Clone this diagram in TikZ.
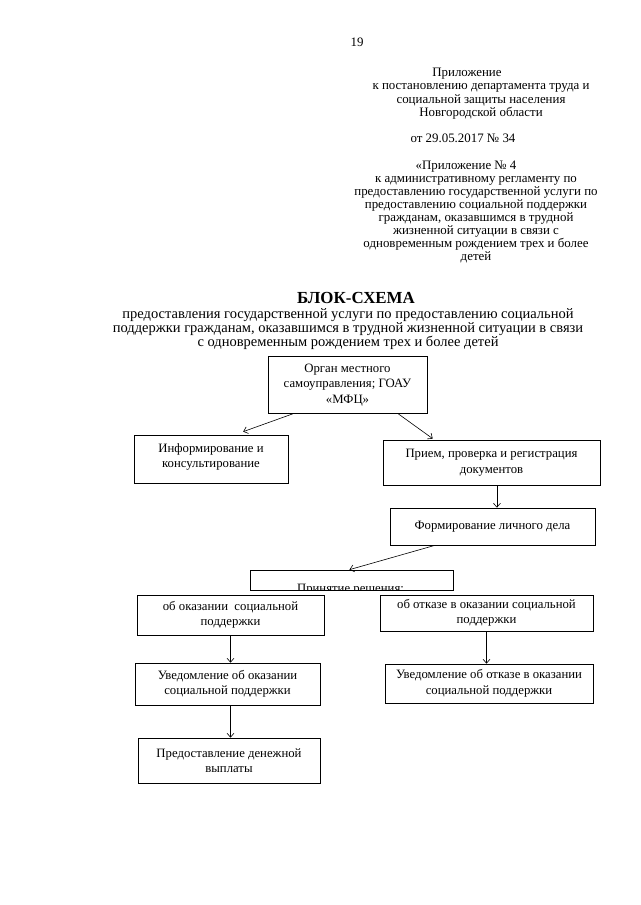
\documentclass[tikz,border=0pt]{standalone}
\usepackage{fontspec}
\setmainfont{Liberation Serif}
\usetikzlibrary{calc,arrows.meta}
\begin{document}
\begin{tikzpicture}[x=1pt,y=-1pt,
  txt/.style={inner sep=0pt,align=center,font=\fontsize{12.9}{13.3}\selectfont},
  box/.style={draw,line width=0.7pt,inner sep=0pt,align=center,font=\fontsize{12.75}{15.5}\selectfont},
  arr/.style={line width=0.6pt,-{Straight Barb[length=4pt,width=7pt,line width=0.6pt]}}
]
\useasboundingbox[fill=white] (0,0) rectangle (640,905);

% header
\node[txt] (pg) at (357,42) {19};
\node[txt] (hd1) at (481,93.5) {\hspace*{-28pt}Приложение\\к постановлению департамента труда и\\социальной защиты населения\\Новгородской области};
\node[txt] (hd2) at (463,138) {от 29.05.2017 № 34};
\node[txt,font=\fontsize{12.9}{12.9}\selectfont] (hd3) at (476,212) {\hspace*{-20pt}«Приложение № 4\\к административному регламенту по\\предоставлению государственной услуги по\\предоставлению социальной поддержки\\гражданам, оказавшимся в трудной\\жизненной ситуации в связи с\\одновременным рождением трех и более\\детей};

\node[txt,font=\fontsize{16.9}{17}\selectfont\bfseries] (title) at (356,298) {БЛОК-СХЕМА};
\node[txt,font=\fontsize{14.5}{13}\selectfont] (sub) at (348,329) {предоставления государственной услуги по предоставлению социальной\\поддержки гражданам, оказавшимся в трудной жизненной ситуации в связи\\с одновременным рождением трех и более детей};

% boxes
\node[box,minimum width=159pt,minimum height=57pt] (A) at (347.5,385) {Орган местного\\самоуправления; ГОАУ\\«МФЦ»};
\node[box,minimum width=154pt,minimum height=48pt] (B) at (211,459) {Информирование и\\консультирование\\[-13pt]\strut};
\node[box,minimum width=217pt,minimum height=45pt] (C) at (491.5,462.5) {Прием, проверка и регистрация\\документов};
\node[box,minimum width=205pt,minimum height=37pt] (D) at (492.5,526.5) {Формирование личного дела};
\node[box,minimum width=203pt,minimum height=20pt] (E) at (351.5,580) {};
\node[box,minimum width=187pt,minimum height=40pt] (F) at (230.5,615) {об оказании\ \ социальной\\поддержки};
\node[box,minimum width=213pt,minimum height=36pt] (G) at (486.5,613) {об отказе в оказании социальной\\поддержки};
\node[box,minimum width=185pt,minimum height=42pt] (H) at (227.5,684) {Уведомление об оказании\\социальной поддержки};
\node[box,minimum width=208pt,minimum height=39pt] (I) at (489,683.5) {Уведомление об отказе в оказании\\социальной поддержки};
\node[box,minimum width=182pt,minimum height=45pt] (J) at (229,760.5) {Предоставление денежной\\выплаты};

\begin{scope}
  \clip (E.south west) rectangle (E.north east);
  \node[box,draw=none,anchor=base] (Etxt) at (350.5,592) {Принятие решения:};
\end{scope}

% connectors
\draw[arr] ($(A.south west)!0.157!(A.south east)$) -- ($(B.north west)!0.708!(B.north east)+(0,-3)$);
\draw[arr] ($(A.south west)!0.818!(A.south east)$) -- ($(C.north west)!0.23!(C.north east)+(0,-1)$);
\coordinate (c1) at ($(C.south west)!0.525!(C.south east)$);
\draw[arr] (c1) -- (c1 |- D.north);
\draw[arr] ($(D.south west)!0.22!(D.south east)$) -- ($(E.north west)!0.49!(E.north east)$);
\draw[arr] (F.south) -- (F.south |- H.north);
\draw[arr] (G.south) -- (G.south |- I.north);
\coordinate (h1) at (F.south |- H.south);
\draw[arr] (h1) -- (h1 |- J.north);
\end{tikzpicture}
\end{document}
